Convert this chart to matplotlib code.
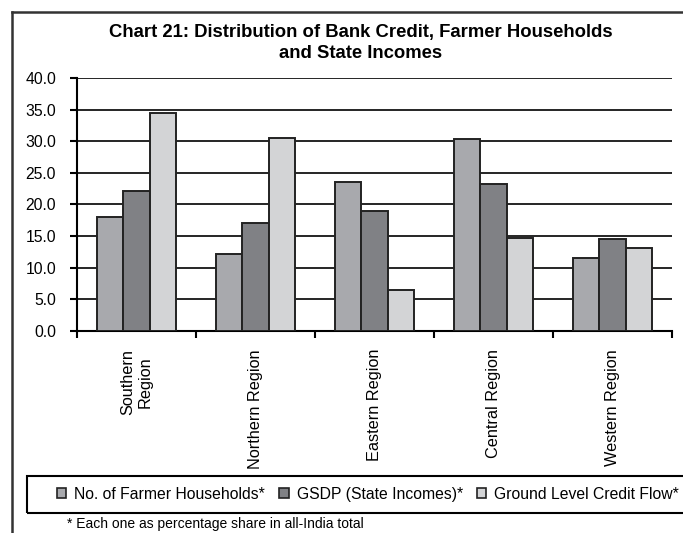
import matplotlib
matplotlib.use("Agg")
import matplotlib.pyplot as plt
import numpy as np
from matplotlib.lines import Line2D
from matplotlib.patches import Rectangle, Patch

plt.rcParams['font.family'] = ['Liberation Sans', 'DejaVu Sans']

categories = ["Southern\nRegion", "Northern Region", "Eastern Region", "Central Region", "Western Region"]
series_names = ["No. of Farmer Households*", "GSDP (State Incomes)*", "Ground Level Credit Flow*"]
farmer = [18.0, 12.2, 23.6, 30.4, 11.6]
gsdp = [22.1, 17.1, 19.0, 23.2, 14.5]
credit = [34.5, 30.5, 6.5, 14.7, 13.2]
yticks = [0, 5, 10, 15, 20, 25, 30, 35, 40]
colors = ["#a8a9ad", "#808185", "#d3d4d6"]

W, H = 683, 533
fig = plt.figure(figsize=(W / 100, H / 100), dpi=100)
ax = fig.add_axes([77 / W, 1 - 331 / H, (672 - 77) / W, (331 - 78) / H])

x = np.arange(len(categories))
bw = 0.222
for i, (vals, c) in enumerate(zip([farmer, gsdp, credit], colors)):
    ax.bar(x + (i - 1) * bw, vals, width=bw, color=c, edgecolor="#222222",
           linewidth=1.4, zorder=3)

ax.set_xlim(-0.5, len(categories) - 0.5)
ax.set_ylim(0, 40)
ax.set_yticks(yticks)
ax.set_yticklabels([f"{v:.1f}" for v in yticks], fontsize=11.3)
ax.yaxis.grid(True, color="black", linewidth=1.2, zorder=0)
ax.set_axisbelow(True)

ax.set_xticks(x)
ax.set_xticklabels(categories, rotation=90, fontsize=11.7, va="top", ha="center",
                   linespacing=1.15)
ax.tick_params(axis="x", length=0, pad=13)
ax.set_xticks(np.arange(-0.5, len(categories) + 0.5, 1), minor=True)
ax.tick_params(axis="x", which="minor", length=5, width=1.5, direction="out", color="black")
ax.tick_params(axis="y", length=5, width=1.5, direction="out", pad=10, color="black")

for s in ["top", "right"]:
    ax.spines[s].set_visible(False)
ax.spines["left"].set_linewidth(1.5)
ax.spines["bottom"].set_linewidth(1.5)

# Title
fig.text(361 / W, 1 - 33 / H, "Chart 21: Distribution of Bank Credit, Farmer Households",
         ha="center", va="center", fontsize=13.3, fontweight="bold")
fig.text(361 / W, 1 - 54 / H, "and State Incomes",
         ha="center", va="center", fontsize=13.3, fontweight="bold")

# Outer frame (left and top edges)
fig.add_artist(Line2D([12 / W, 12 / W], [0, 1 - 12 / H], color="#333333", linewidth=1.8,
                      transform=fig.transFigure))
fig.add_artist(Line2D([12 / W, 1], [1 - 12 / H, 1 - 12 / H], color="#333333", linewidth=1.8,
                      transform=fig.transFigure))

# Legend box
fig.add_artist(Rectangle((27 / W, 1 - 513 / H), (700 - 27) / W, (513 - 476) / H,
                         transform=fig.transFigure, fill=False, edgecolor="black",
                         linewidth=1.5))
handles = [Patch(facecolor=c, edgecolor="#222222", linewidth=1.2) for c in colors]
fig.legend(handles, series_names, loc="center", bbox_to_anchor=(368 / W, 1 - 494.5 / H),
           ncol=3, frameon=False, fontsize=11.3, handlelength=0.6, handleheight=0.6,
           handletextpad=0.5, columnspacing=0.9)

fig.text(67 / W, 1 - 524 / H, "* Each one as percentage share in all-India total",
         ha="left", va="center", fontsize=10)

fig.savefig("out.png", dpi=100)
